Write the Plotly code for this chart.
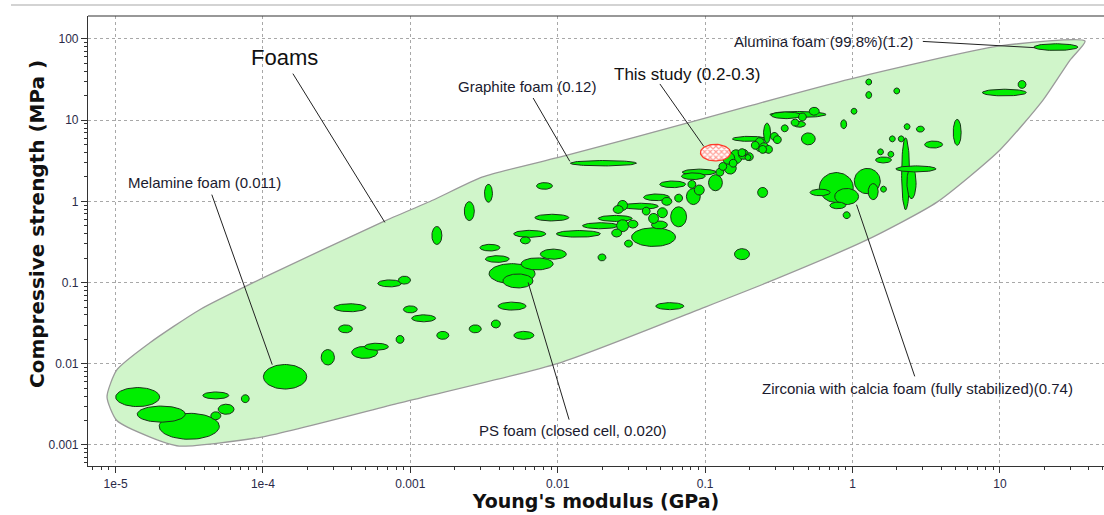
import numpy as np
import plotly.graph_objects as go

# ---------------- data ----------------
# Envelope of the "Foams" family (E in GPa, strength in MPa)
env_E = [37.8, 10, 0.96, 0.20, 0.1, 0.0116, 0.0031, 0.00143, 0.00065, 1e-4, 3.7e-5, 1.7e-5,
         1.02e-5, 8.75e-6, 1.02e-5, 1.7e-5, 2.7e-5, 1e-4, 8.5e-4, 0.0102, 0.1, 0.26, 1.25,
         3.74, 10, 19.6, 29.9, 37.8]
env_S = [94, 82, 32, 15, 10.6, 3.7, 2.0, 1.04, 0.56, 0.114, 0.046, 0.018,
         0.0084, 0.0039, 0.0020, 0.00126, 0.00097, 0.00126, 0.0033, 0.0102, 0.05, 0.099, 0.335,
         0.98, 4.3, 17.7, 55, 94]

# Individual foam materials: log10 centre of E (GPa) and strength (MPa), half ranges in decades
logE = [-4.85, -4.69, -4.50, -4.32, -4.25, -4.32, -4.12, -3.85, -3.56, -3.31, -3.23, -3.44, -3.41,
        -3.14, -3.04, -3.07, -3.00, -2.91, -2.78, -2.56, -2.42, -2.31, -2.23, -1.24, -0.75, -1.70,
        -2.31, -2.27, -2.14, -2.03, -2.46, -2.41, -2.19, -2.22, -2.09, -2.47, -2.60, -2.82, -2.04,
        -1.86, -1.69, -1.71, -1.61, -1.35, -1.18, -1.44, -1.56, -1.59, -1.52, -1.60, -1.56, -1.49,
        -1.35, -1.31, -1.29, -1.40, -1.33, -1.26, -1.18, -1.08, -1.22, -1.09, -1.04, -0.93, -1.04,
        -0.90, -0.83, -0.81, -0.79, -0.74, -0.71, -0.57, -0.88, -0.75, -0.70, -0.63, -0.60, -0.58,
        -0.70, -0.53, -0.51, -0.46, -0.45, -0.39, -0.61, -0.84, -1.08, -0.37, -0.26, -0.34, -0.36,
        -0.30, -0.66, -0.61, 1.38, 1.03, 1.15, 0.11, 0.11, 0.30, 0.01, -0.06, 0.37, 0.46, 0.71,
        0.55, 0.27, 0.33, 0.19, 0.26, 0.21, 0.36, 0.40, 0.43, -0.11, 0.10, -0.04, -0.22, -0.10,
        0.14, 0.21, -0.04]
logS = [-2.41, -2.62, -2.77, -2.39, -2.56, -2.64, -2.43, -2.16, -1.92, -1.86, -1.79, -1.57, -1.31,
        -1.01, -0.97, -1.70, -1.33, -1.44, -1.65, -1.57, -1.51, -1.29, -1.65, -1.29, -0.65, -0.69,
        -0.89, -0.98, -0.77, -0.65, -0.57, -0.71, -0.40, -0.48, 0.19, 0.10, -0.12, -0.42, -0.20,
        -0.40, 0.47, -0.30, -0.21, -0.44, -0.19, -0.06, -0.05, -0.10, -0.52, -0.39, -0.30, -0.28,
        -0.21, -0.29, -0.14, -0.12, 0.05, 0.00, 0.04, 0.06, 0.21, 0.21, 0.14, 0.23, 0.36,
        0.36, 0.41, 0.47, 0.55, 0.58, 0.54, 0.64, 0.43, 0.60, 0.55, 0.70, 0.66, 0.84,
        0.77, 0.80, 0.76, 0.90, 1.06, 0.97, 0.11, 0.53, 0.31, 1.07, 1.11, 1.04, 0.95,
        0.77, 0.69, 0.64, 1.90, 1.34, 1.44, 1.47, 1.31, 1.36, 1.11, 0.95, 0.92, 0.89, 0.85,
        0.70, 0.77, 0.77, 0.61, 0.58, 0.51, 0.34, 0.23, 0.40, 0.17, 0.25, 0.06, 0.11, -0.05,
        0.12, 0.15, -0.17]
dE = [0.149, 0.163, 0.204, 0.088, 0.054, 0.034, 0.027, 0.147, 0.045, 0.088, 0.081, 0.047, 0.109,
      0.081, 0.041, 0.027, 0.047, 0.081, 0.041, 0.041, 0.031, 0.095, 0.068, 0.095, 0.051, 0.027,
      0.156, 0.102, 0.109, 0.088, 0.068, 0.081, 0.109, 0.034, 0.054, 0.027, 0.034, 0.034, 0.115,
      0.149, 0.224, 0.122, 0.115, 0.149, 0.054, 0.122, 0.034, 0.034, 0.027, 0.034, 0.041, 0.034,
      0.034, 0.054, 0.034, 0.027, 0.088, 0.034, 0.027, 0.047, 0.088, 0.027, 0.034, 0.047, 0.115,
      0.027, 0.041, 0.027, 0.041, 0.034, 0.020, 0.027, 0.027, 0.027, 0.027, 0.034, 0.034, 0.024,
      0.115, 0.027, 0.027, 0.024, 0.102, 0.027, 0.034, 0.041, 0.081, 0.190, 0.034, 0.027, 0.041,
      0.047, 0.027, 0.027, 0.149, 0.149, 0.027, 0.020, 0.020, 0.020, 0.020, 0.020, 0.020, 0.027, 0.027,
      0.061, 0.020, 0.020, 0.020, 0.020, 0.054, 0.027, 0.031, 0.136, 0.115, 0.088, 0.081, 0.068, 0.054,
      0.034, 0.020, 0.024]
dS = [0.117, 0.099, 0.160, 0.043, 0.062, 0.049, 0.049, 0.151, 0.095, 0.074, 0.043, 0.049, 0.049,
      0.043, 0.049, 0.049, 0.043, 0.043, 0.049, 0.049, 0.049, 0.049, 0.049, 0.043, 0.068, 0.043,
      0.123, 0.086, 0.074, 0.062, 0.041, 0.041, 0.043, 0.043, 0.041, 0.111, 0.117, 0.111, 0.041,
      0.041, 0.033, 0.037, 0.037, 0.115, 0.123, 0.037, 0.062, 0.049, 0.043, 0.049, 0.074, 0.049,
      0.062, 0.049, 0.062, 0.049, 0.041, 0.049, 0.049, 0.099, 0.041, 0.049, 0.062, 0.099, 0.037,
      0.049, 0.074, 0.049, 0.086, 0.062, 0.037, 0.049, 0.049, 0.049, 0.049, 0.086, 0.062, 0.123,
      0.031, 0.049, 0.049, 0.043, 0.041, 0.043, 0.062, 0.074, 0.041, 0.037, 0.049, 0.049, 0.037,
      0.074, 0.049, 0.049, 0.041, 0.041, 0.049, 0.037, 0.043, 0.037, 0.037, 0.055, 0.037, 0.037, 0.160,
      0.043, 0.037, 0.037, 0.037, 0.037, 0.037, 0.443, 0.197, 0.037, 0.185, 0.156, 0.099, 0.041, 0.041,
      0.099, 0.037, 0.043]

# This study
study_logE, study_logS, study_dE, study_dS = -0.93, 0.60, 0.102, 0.102

x_tickvals = [1e-5, 1e-4, 1e-3, 1e-2, 1e-1, 1, 10]
x_ticktext = ["1e-5", "1e-4", "0.001", "0.01", "0.1", "1", "10"]
y_tickvals = [1e-3, 1e-2, 1e-1, 1, 10, 100]
y_ticktext = ["0.001", "0.01", "0.1", "1", "10", "100"]

# ---------------- figure ----------------
fig = go.Figure()

fig.add_trace(go.Scatter(
    x=env_E, y=env_S, mode="lines", fill="toself",
    fillcolor="rgb(208,245,202)",
    line=dict(color="#9a9a9a", width=1.3, shape="spline", smoothing=0.6),
    hoverinfo="skip", showlegend=False))

t = np.linspace(0, 2 * np.pi, 72)


def ellipse(lx, ly, ex, ey):
    return 10 ** (lx + ex * np.cos(t)), 10 ** (ly + ey * np.sin(t))


order = sorted(range(len(logE)), key=lambda i: -dE[i] * dS[i])
for i in order:
    ex, ey = ellipse(logE[i], logS[i], dE[i], dS[i])
    fig.add_trace(go.Scatter(
        x=ex, y=ey, mode="lines", fill="toself", fillcolor="#00ee00",
        line=dict(color="#1a331a", width=1), hoverinfo="skip", showlegend=False))

ex, ey = ellipse(study_logE, study_logS, study_dE, study_dS)
fig.add_trace(go.Scatter(
    x=ex, y=ey, mode="lines", fill="toself", fillcolor="rgba(255,255,255,1)",
    fillpattern=dict(shape="x", fgcolor="#ff3a2a", bgcolor="#ffffff", size=4, solidity=0.5),
    line=dict(color="#ff3a2a", width=1.3), hoverinfo="skip", showlegend=False))

# annotation texts and leader lines (log10 coordinates)
labels = [
    ("Foams", -3.851, 1.770, 22, (-3.797, 1.573), (-3.173, -0.259)),
    ("Melamine foam (0.011)", -4.394, 0.230, 15, (-4.347, 0.083), (-3.937, -2.011)),
    ("Graphite foam (0.12)", -2.210, 1.413, 15, (-2.167, 1.273), (-1.918, 0.493)),
    ("This study (0.2-0.3)", -1.124, 1.560, 17, (-1.307, 1.446), (-1.009, 0.677)),
    ("Alumina foam (99.8%)(1.2)", -0.198, 1.973, 15, (0.477, 1.970), (1.237, 1.893)),
    ("Zirconia with calcia foam (fully stabilized)(0.74)", 0.443, -2.306, 15, (0.422, -2.155), (0.027, -0.041)),
    ("PS foam (closed cell, 0.020)", -1.898, -2.824, 15, (-1.923, -2.688), (-2.201, -0.998)),
]
for text, lx, ly, fs, p0, p1 in labels:
    fig.add_trace(go.Scatter(
        x=[10 ** p0[0], 10 ** p1[0]], y=[10 ** p0[1], 10 ** p1[1]], mode="lines",
        line=dict(color="#222222", width=1), hoverinfo="skip", showlegend=False))
    fig.add_annotation(x=lx, y=ly, xref="x", yref="y", text=text, showarrow=False,
                       font=dict(family="Liberation Sans, Arial, sans-serif", size=fs,
                                 color="#1a1a2e" if fs < 16 else "#111111"))

# y-axis title (placed as rotated text, slightly above the axis centre as in the original)
fig.add_annotation(x=-0.0502, y=0.5378, xref="paper", yref="paper", textangle=-90,
                   text="Compressive strength (MPa )", showarrow=False,
                   xanchor="center", yanchor="middle",
                   font=dict(family="DejaVu Sans, Verdana, sans-serif", size=20,
                             color="#111111", weight="bold"))

minor_x = [m * 10 ** d for d in range(-6, 2) for m in range(2, 10)]
minor_y = [m * 10 ** d for d in range(-4, 3) for m in range(2, 10)]

tickfont = dict(family="Liberation Sans, Arial, sans-serif", size=12, color="#2a2a48")
fig.update_xaxes(
    type="log", range=[-5.187, 1.706], tickvals=x_tickvals, ticktext=x_ticktext,
    showgrid=True, gridcolor="#a8a8a8", griddash="3px,3px", gridwidth=1,
    showline=True, linecolor="#333333", linewidth=1.2, zeroline=False,
    ticks="outside", ticklen=6, tickcolor="#333333", tickfont=tickfont,
    minor=dict(tickvals=minor_x, ticks="outside", ticklen=3, tickcolor="#333333", showgrid=False),
    title=dict(text="Young's modulus (GPa)", standoff=2,
               font=dict(family="DejaVu Sans, Verdana, sans-serif", size=19, color="#111111",
                         weight="bold")))
fig.update_yaxes(
    type="log", range=[-3.259, 2.283], tickvals=y_tickvals, ticktext=y_ticktext,
    showgrid=True, gridcolor="#a8a8a8", griddash="3px,3px", gridwidth=1,
    showline=True, linecolor="#333333", linewidth=1.2, zeroline=False,
    ticks="outside", ticklen=6, tickcolor="#333333", tickfont=tickfont,
    minor=dict(tickvals=minor_y, ticks="outside", ticklen=3, tickcolor="#333333", showgrid=False))

fig.add_shape(type="line", xref="paper", yref="paper", x0=0, x1=1, y0=1, y1=1,
              line=dict(color="#333333", width=1.2))
fig.add_shape(type="line", xref="paper", yref="paper", x0=-0.0758, x1=1, y0=1.0244, y1=1.0244,
              line=dict(color="#c4c4c4", width=1.5))

fig.update_layout(
    width=1104, height=515,
    margin=dict(l=88, r=0, t=16, b=49, autoexpand=False),
    paper_bgcolor="white", plot_bgcolor="white",
    showlegend=False)

fig.write_html("out.html", config={"displayModeBar": False},
               post_script="document.body.style.margin='0px';")
